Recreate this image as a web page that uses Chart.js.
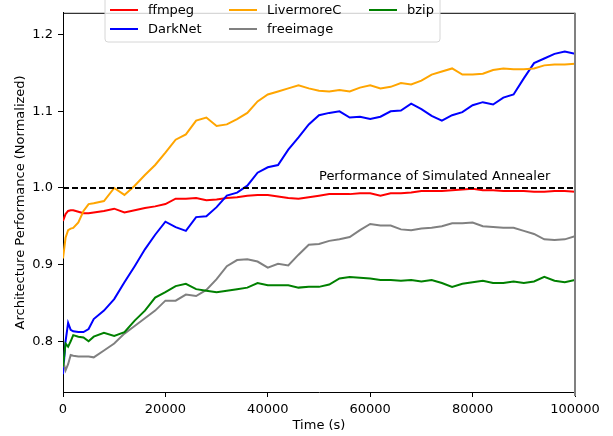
<!DOCTYPE html>
<html>
<head>
<meta charset="utf-8">
<script src="https://cdn.jsdelivr.net/npm/chart.js@4/dist/chart.umd.min.js"></script>
<style>
  body { margin: 0; background: #fff; }
  #wrap { width: 613px; height: 436px; }
</style>
</head>
<body>
<div id="wrap"><canvas id="grafico" width="613" height="436"></canvas></div>
<script>
// tempo (s)
const times = [0, 500, 1000, 1500, 2000, 3000, 4000, 5000, 6000,
  8000, 10000, 12000, 14000, 16000, 18000, 20000, 22000, 24000, 26000,
  28000, 30000, 32000, 34000, 36000, 38000, 40000, 42000, 44000, 46000,
  48000, 50000, 52000, 54000, 56000, 58000, 60000, 62000, 64000, 66000,
  68000, 70000, 72000, 74000, 76000, 78000, 80000, 82000, 84000, 86000,
  88000, 90000, 92000, 94000, 96000, 98000, 100000];

const ffmpeg = [0.957, 0.966, 0.970, 0.971, 0.971, 0.969, 0.967, 0.967, 0.968,
  0.970, 0.973, 0.968, 0.971, 0.974, 0.976, 0.979, 0.986, 0.986, 0.987,
  0.984, 0.985, 0.987, 0.988, 0.990, 0.991, 0.991, 0.989, 0.987, 0.986,
  0.988, 0.990, 0.992, 0.992, 0.992, 0.993, 0.993, 0.990, 0.993, 0.993,
  0.994, 0.996, 0.996, 0.996, 0.997, 0.998, 0.999, 0.997, 0.997, 0.996,
  0.996, 0.996, 0.995, 0.995, 0.996, 0.996, 0.995];

const darknet = [0.757, 0.800, 0.824, 0.815, 0.813, 0.812, 0.812, 0.816, 0.829,
  0.840, 0.855, 0.877, 0.898, 0.920, 0.939, 0.956, 0.949, 0.944, 0.962,
  0.963, 0.975, 0.990, 0.994, 1.003, 1.020, 1.027, 1.030, 1.050, 1.066,
  1.083, 1.095, 1.098, 1.100, 1.092, 1.093, 1.090, 1.093, 1.100, 1.101,
  1.110, 1.103, 1.094, 1.088, 1.095, 1.099, 1.108, 1.112, 1.109, 1.118,
  1.122, 1.143, 1.163, 1.169, 1.175, 1.178, 1.175];

const livermore = [0.908, 0.935, 0.945, 0.947, 0.948, 0.955, 0.970, 0.979, 0.980,
  0.983, 1.000, 0.991, 1.003, 1.017, 1.030, 1.046, 1.063, 1.070, 1.088,
  1.092, 1.081, 1.083, 1.090, 1.098, 1.113, 1.122, 1.126, 1.130, 1.134,
  1.130, 1.127, 1.126, 1.128, 1.126, 1.131, 1.134, 1.130, 1.132, 1.137,
  1.135, 1.140, 1.148, 1.152, 1.156, 1.148, 1.148, 1.149, 1.154, 1.156,
  1.155, 1.155, 1.156, 1.160, 1.161, 1.161, 1.162];

const freeimage = [0.775, 0.762, 0.770, 0.782, 0.781, 0.780, 0.780, 0.780, 0.779,
  0.788, 0.797, 0.810, 0.820, 0.830, 0.840, 0.853, 0.853, 0.861, 0.859,
  0.867, 0.881, 0.898, 0.906, 0.907, 0.904, 0.896, 0.901, 0.899, 0.913,
  0.926, 0.927, 0.931, 0.933, 0.936, 0.945, 0.953, 0.951, 0.951, 0.946,
  0.945, 0.947, 0.948, 0.950, 0.954, 0.954, 0.955, 0.950, 0.949, 0.948,
  0.948, 0.944, 0.940, 0.933, 0.932, 0.933, 0.937];

const bzip = [0.767, 0.797, 0.793, 0.800, 0.808, 0.806, 0.805, 0.800, 0.806,
  0.811, 0.807, 0.812, 0.827, 0.840, 0.857, 0.864, 0.872, 0.875, 0.868,
  0.866, 0.864, 0.866, 0.868, 0.870, 0.876, 0.873, 0.873, 0.873, 0.870,
  0.871, 0.871, 0.874, 0.882, 0.884, 0.883, 0.882, 0.880, 0.880, 0.879,
  0.880, 0.878, 0.880, 0.876, 0.871, 0.875, 0.877, 0.879, 0.876, 0.876,
  0.878, 0.876, 0.878, 0.884, 0.879, 0.877, 0.880];

const seriesNames = ['ffmpeg', 'DarkNet', 'LivermoreC', 'freeimage', 'bzip'];
const seriesValues = [ffmpeg, darknet, livermore, freeimage, bzip];
const seriesColors = ['#ff0000', '#0000ff', '#ffa500', '#808080', '#008000'];

const yTicks = [0.8, 0.9, 1.0, 1.1, 1.2];
const annealer = 1.0;
const annealerLabel = 'Performance of Simulated Annealer';

const FONT = 'DejaVu Sans';

const datasets = seriesNames.map((name, i) => ({
  label: name,
  data: times.map((t, j) => ({ x: t, y: seriesValues[i][j] })),
  borderColor: seriesColors[i],
  backgroundColor: seriesColors[i],
  borderWidth: 2,
  pointRadius: 0,
  tension: 0,
  order: seriesNames.length - i
}));

// linha tracejada do annealer
datasets.push({
  label: '_annealer',
  data: [{ x: 0, y: annealer }, { x: 100000, y: annealer }],
  borderColor: '#000',
  borderWidth: 2,
  borderDash: [6, 3],
  pointRadius: 0,
  order: 0
});

// moldura, texto e legenda desenhados por cima
const extras = {
  id: 'extras',
  afterDraw(chart) {
    const ctx = chart.ctx;
    const a = chart.chartArea;
    const xs = chart.scales.x, ys = chart.scales.y;
    ctx.save();

    // topo e lado direito
    ctx.strokeStyle = '#000';
    ctx.lineWidth = 1;
    ctx.beginPath();
    ctx.moveTo(a.left, a.top + 0.5);
    ctx.lineTo(a.right, a.top + 0.5);
    ctx.stroke();
    ctx.strokeStyle = '#808080';
    ctx.lineWidth = 2;
    ctx.beginPath();
    ctx.moveTo(a.right, a.top);
    ctx.lineTo(a.right, a.bottom + 4);
    ctx.stroke();

    ctx.fillStyle = '#000';
    ctx.font = '13px "' + FONT + '"';
    ctx.textAlign = 'left';
    ctx.textBaseline = 'alphabetic';
    ctx.fillText(annealerLabel, xs.getPixelForValue(50000), ys.getPixelForValue(1.01));

    // legenda
    const bx = 105, by = -8, bw = 335, bh = 50, r = 3;
    ctx.beginPath();
    ctx.moveTo(bx + r, by);
    ctx.lineTo(bx + bw - r, by);
    ctx.quadraticCurveTo(bx + bw, by, bx + bw, by + r);
    ctx.lineTo(bx + bw, by + bh - r);
    ctx.quadraticCurveTo(bx + bw, by + bh, bx + bw - r, by + bh);
    ctx.lineTo(bx + r, by + bh);
    ctx.quadraticCurveTo(bx, by + bh, bx, by + bh - r);
    ctx.lineTo(bx, by + r);
    ctx.quadraticCurveTo(bx, by, bx + r, by);
    ctx.closePath();
    ctx.fillStyle = 'rgba(255,255,255,0.8)';
    ctx.fill();
    ctx.strokeStyle = '#d6d6d6';
    ctx.lineWidth = 1;
    ctx.stroke();

    const colX = [110, 229, 369];
    const rowY = [10, 29];
    ctx.textBaseline = 'middle';
    seriesNames.forEach((name, i) => {
      const cx = colX[Math.floor(i / 2)];
      const cy = rowY[i % 2];
      ctx.strokeStyle = seriesColors[i];
      ctx.lineWidth = 2;
      ctx.beginPath();
      ctx.moveTo(cx, cy);
      ctx.lineTo(cx + 28, cy);
      ctx.stroke();
      ctx.fillStyle = '#000';
      ctx.fillText(name, cx + 38, cy + 1);
    });
    ctx.restore();
  }
};

const ctxGrafico = document.getElementById('grafico').getContext('2d');
const grafico = new Chart(ctxGrafico, {
  type: 'line',
  data: { datasets: datasets },
  options: {
    responsive: false,
    animation: false,
    devicePixelRatio: 1,
    layout: { padding: { left: 0, right: 38, top: 11, bottom: 0 } },
    plugins: {
      legend: { display: false },
      tooltip: { enabled: false }
    },
    scales: {
      x: {
        type: 'linear',
        min: 0,
        max: 100000,
        afterFit: (s) => { s.height = 44; },
        border: { color: '#000', width: 1 },
        grid: { drawOnChartArea: false, drawTicks: true, tickLength: 5, color: '#000' },
        ticks: {
          stepSize: 20000,
          color: '#000',
          padding: 5,
          maxRotation: 0,
          font: { family: FONT, size: 13 },
          callback: (v) => String(v)
        },
        title: {
          display: true,
          text: 'Time (s)',
          color: '#000',
          font: { family: FONT, size: 13 },
          padding: { top: 0, bottom: 3 }
        }
      },
      y: {
        type: 'linear',
        min: 0.7338,
        max: 1.2286,
        afterFit: (s) => { s.width = 63; },
        afterBuildTicks: (s) => { s.ticks = yTicks.map(v => ({ value: v })); },
        border: { color: '#000', width: 1 },
        grid: { drawOnChartArea: false, drawTicks: true, tickLength: 5, color: '#000' },
        ticks: {
          color: '#000',
          padding: 5,
          font: { family: FONT, size: 13 },
          callback: (v) => Number(v).toFixed(1)
        },
        title: {
          display: true,
          text: 'Architecture Performance (Normalized)',
          color: '#000',
          font: { family: FONT, size: 13 },
          padding: { top: 13, bottom: 0 }
        }
      }
    }
  },
  plugins: [extras]
});
</script>
</body>
</html>
